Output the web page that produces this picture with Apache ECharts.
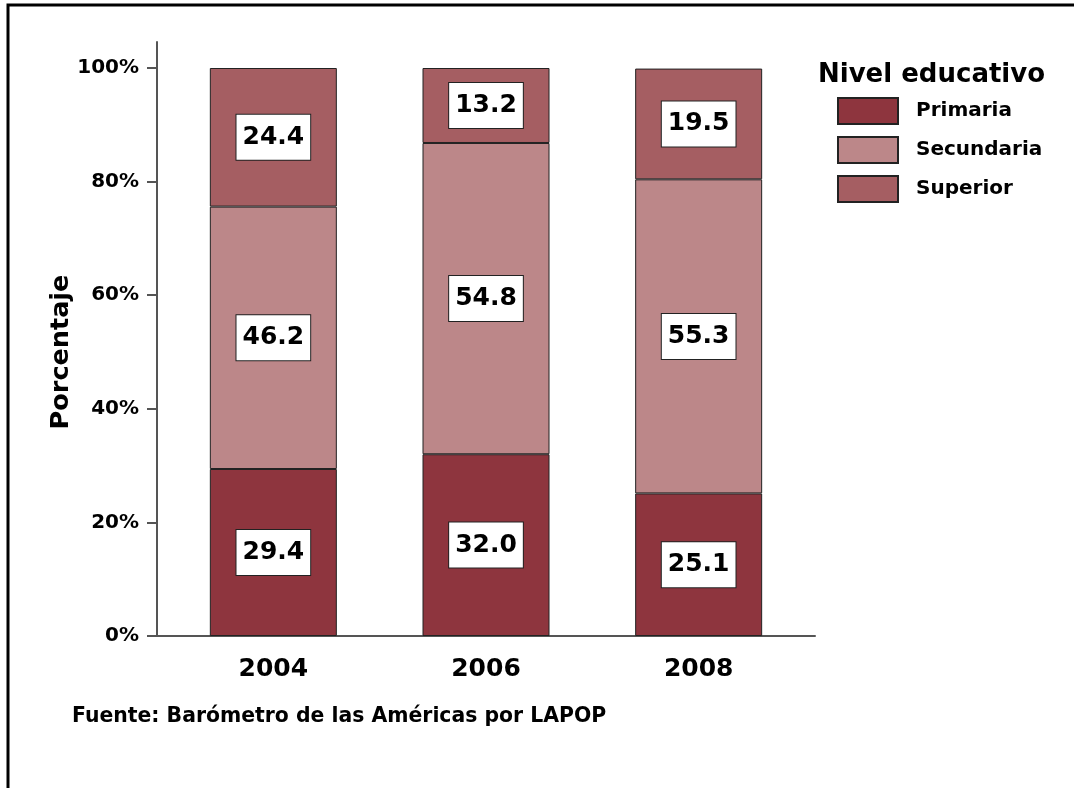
<!DOCTYPE html>
<html>
<head>
<meta charset="utf-8">
<script src="https://cdn.jsdelivr.net/npm/echarts@6/dist/echarts.min.js"></script>
<style>
  html, body { margin: 0; padding: 0; background: #fff; }
  #main { width: 1074px; height: 788px; }
</style>
</head>
<body>
<div id="main"></div>
<script>
var years = ["2004", "2006", "2008"];
var primaria = [29.4, 32.0, 25.1];
var secundaria = [46.2, 54.8, 55.3];
var superior = [24.4, 13.2, 19.5];
var yTicks = [0, 20, 40, 60, 80, 100];

var font = "DejaVu Sans";
var yMax = 104.58; // axis line runs a bit above 100%

var labelStyle = {
  show: true,
  position: "inside",
  formatter: function (p) {
    return Number(p.value).toFixed(1);
  },
  fontFamily: font,
  fontWeight: "bold",
  fontSize: 25,
  lineHeight: 25,
  color: "#000",
  backgroundColor: "#fff",
  borderColor: "#222",
  borderWidth: 1,
  padding: [10, 6, 10, 6],
};

function makeSeries(name, data, color) {
  return {
    name: name,
    type: "bar",
    stack: "total",
    xAxisIndex: 1,
    yAxisIndex: 1,
    barWidth: 127,
    data: data,
    itemStyle: { color: color, borderColor: "#222", borderWidth: 1 },
    label: labelStyle,
  };
}

var option = {
  animation: false,
  backgroundColor: "#fff",
  title: [
    {
      text: "Nivel educativo",
      left: 813,
      top: 57,
      textStyle: { fontFamily: font, fontWeight: "bold", fontSize: 26, color: "#000" },
    },
    {
      text: "Fuente: Barómetro de las Américas por LAPOP",
      left: 67,
      top: 702,
      textStyle: { fontFamily: font, fontWeight: "bold", fontSize: 20.4, color: "#000" },
    },
  ],
  legend: {
    orient: "vertical",
    left: 832,
    top: 92,
    itemWidth: 60,
    itemHeight: 26,
    itemGap: 11,
    icon: "rect",
    data: ["Primaria", "Secundaria", "Superior"],
    textStyle: {
      fontFamily: font,
      fontWeight: "bold",
      fontSize: 20,
      color: "#000",
      padding: [0, 0, 0, 13],
    },
  },
  grid: [
    // axis frame
    { left: 157, right: 259, top: 42, bottom: 152 },
    // bars
    { left: 167, right: 269, top: 42, bottom: 152 },
  ],
  xAxis: [
    {
      gridIndex: 0,
      type: "value",
      min: 0,
      max: 1,
      splitLine: { show: false },
      axisTick: { show: false },
      axisLabel: { show: false },
      axisLine: { show: true, lineStyle: { color: "#555", width: 2 } },
    },
    {
      gridIndex: 1,
      type: "category",
      data: years,
      axisLine: { show: false },
      axisTick: { show: false },
      axisLabel: {
        margin: 21,
        fontFamily: font,
        fontWeight: "bold",
        fontSize: 25,
        color: "#000",
      },
    },
  ],
  yAxis: [
    {
      gridIndex: 0,
      type: "value",
      min: 0,
      max: yMax,
      name: "Porcentaje",
      nameLocation: "middle",
      nameGap: 83,
      nameMoveOverlap: false,
      nameTextStyle: {
        fontFamily: font,
        fontWeight: "bold",
        fontSize: 25.5,
        color: "#000",
        padding: [0, 26, 0, 0],
      },
      splitLine: { show: false },
      axisLine: { show: true, onZero: false, lineStyle: { color: "#555", width: 2 } },
      axisTick: { show: true, customValues: yTicks, length: 10, lineStyle: { color: "#555", width: 2 } },
      axisLabel: {
        customValues: yTicks,
        formatter: "{value}%",
        margin: 18,
        fontFamily: font,
        fontWeight: "bold",
        fontSize: 20,
        color: "#000",
      },
    },
    {
      gridIndex: 1,
      type: "value",
      min: 0,
      max: yMax,
      show: false,
      splitLine: { show: false },
    },
  ],
  series: [
    makeSeries("Primaria", primaria, "#8E353E"),
    makeSeries("Secundaria", secundaria, "#BC8789"),
    makeSeries("Superior", superior, "#A55E62"),
  ],
  graphic: [
    {
      type: "polyline",
      shape: { points: [[8, 788], [8, 5], [1074, 5]] },
      style: { stroke: "#000", lineWidth: 3, fill: null },
      silent: true,
    },
  ],
};

var myChart = echarts.init(document.getElementById("main"));
myChart.setOption(option);
</script>
</body>
</html>
